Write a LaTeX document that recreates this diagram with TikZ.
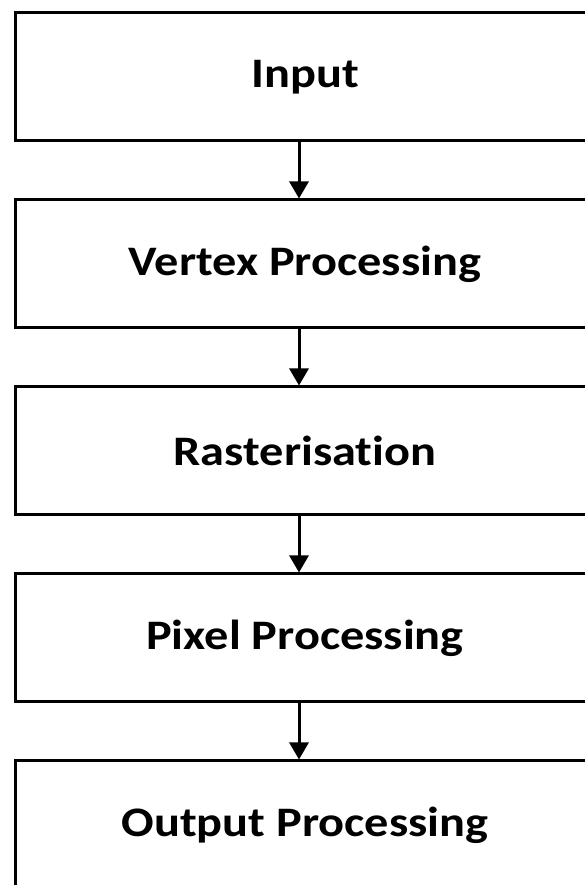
\documentclass[tikz,border=0pt]{standalone}
\usepackage{fontspec}
\setmainfont{Carlito}[Ligatures=NoCommon,FakeStretch=1.15]
\usetikzlibrary{arrows.meta,positioning}

\begin{document}
\begin{tikzpicture}[
font=\bfseries\fontsize{42}{46}\selectfont,
stage/.style={draw,line width=3pt,minimum width=580pt,minimum height=128pt,inner sep=0pt},
flow/.style={-{Triangle[width=19pt,length=17pt]},line width=3pt},
node distance=56pt]
    % Page frame
    \useasboundingbox (0,0) rectangle (585pt,885pt);
    \clip (0,0) rectangle (585pt,885pt);

    % Pipeline stages
    \node[stage] (input) at (305pt,808pt) {Input};
    \node[stage,below=of input] (vertex) {Vertex Processing};
    \node[stage,below=of vertex] (raster) {Rasterisation};
    \node[stage,below=of raster] (pixel) {Pixel Processing};
    \node[stage,below=of pixel] (output) {Output Processing};

    % Arrows between stages
    \draw[flow] ([xshift=-6pt]input.south) -- ([xshift=-6pt]vertex.north);
    \draw[flow] ([xshift=-6pt]vertex.south) -- ([xshift=-6pt]raster.north);
    \draw[flow] ([xshift=-6pt]raster.south) -- ([xshift=-6pt]pixel.north);
    \draw[flow] ([xshift=-6pt]pixel.south) -- ([xshift=-6pt]output.north);

\end{tikzpicture}
\end{document}
